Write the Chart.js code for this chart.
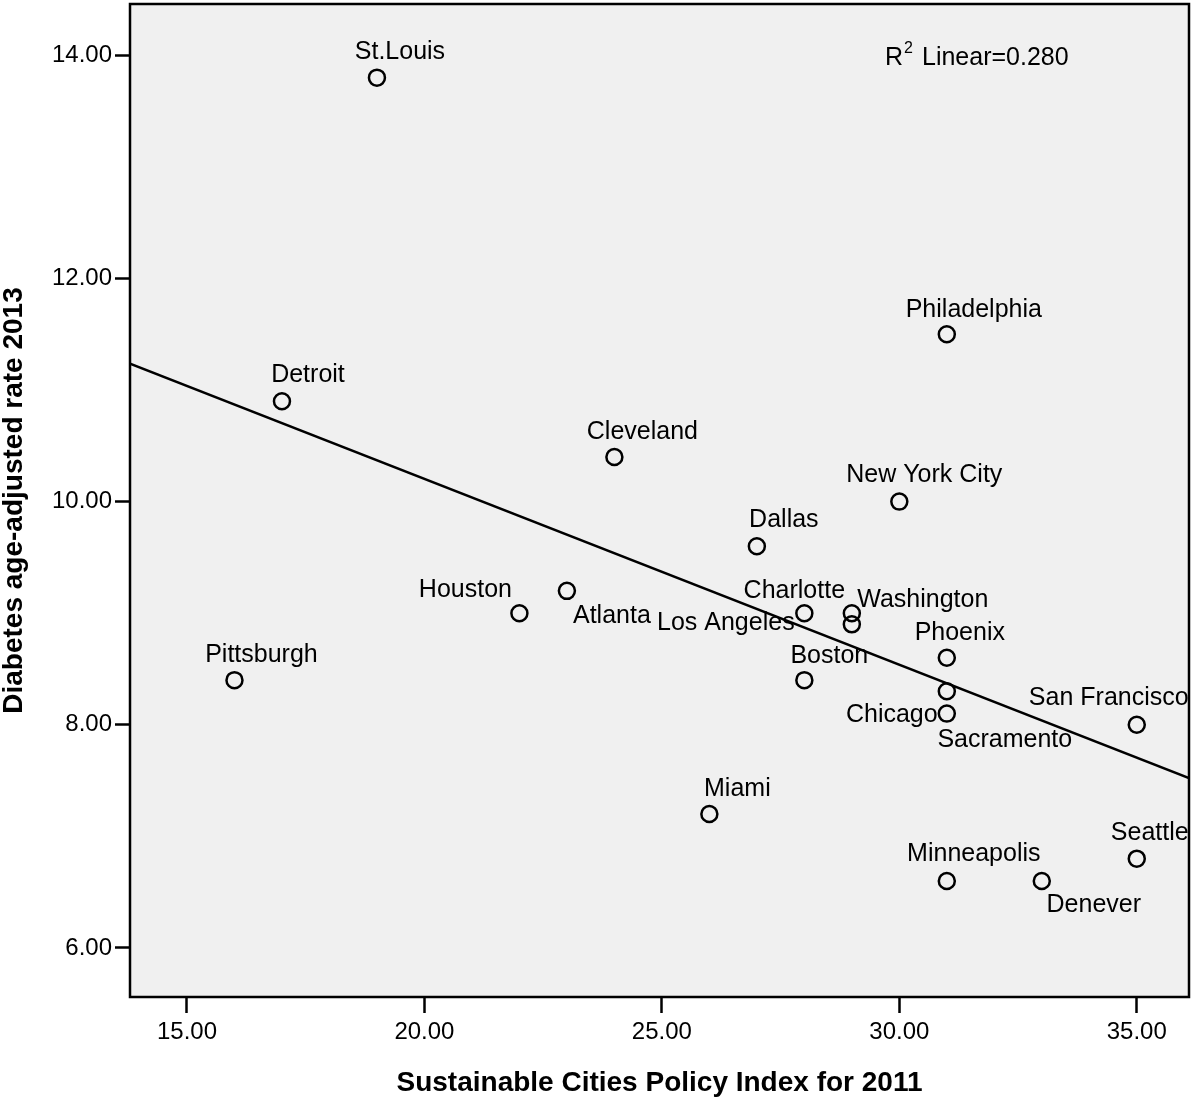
<!DOCTYPE html>
<html>
<head>
<meta charset="utf-8">
<script src="https://cdn.jsdelivr.net/npm/chart.js@4/dist/chart.umd.min.js"></script>
<style>
  html, body { margin: 0; padding: 0; background: #fff; }
  #wrap { width: 1192px; height: 1100px; }
</style>
</head>
<body>
<div id="wrap"><canvas id="chart" width="1192" height="1100"></canvas></div>
<script>
// data
var cities = ['St.Louis', 'Detroit', 'Pittsburgh', 'Houston', 'Atlanta', 'Cleveland', 'Miami',
  'Dallas', 'Charlotte', 'Boston', 'Washington', 'Los Angeles', 'New York City', 'Philadelphia',
  'Phoenix', 'Sacramento', 'Chicago', 'Minneapolis', 'Denever', 'San Francisco', 'Seattle'];
var policyIndex = [19, 17, 16, 22, 23, 24, 26, 27, 28, 28, 29, 29, 30, 31, 31, 31, 31, 31, 33, 35, 35];
var diabetesRate = [13.8, 10.9, 8.4, 9.0, 9.2, 10.4, 7.2, 9.6, 9.0, 8.4, 9.0, 8.9, 10.0, 11.5,
  8.6, 8.3, 8.1, 6.6, 6.6, 8.0, 6.8];
var xTicks = [15, 20, 25, 30, 35];
var yTicks = [6, 8, 10, 12, 14];
var r2Text = 'Linear=0.280';

var xMin = 13.8, xMax = 36.1, yMin = 5.56, yMax = 14.46;

// label placement (text centre relative to the point, px)
var labelOffset = {
  'St.Louis': [23, -26], 'Detroit': [26, -26], 'Pittsburgh': [27, -25], 'Houston': [-54, -23],
  'Atlanta': [45, 25], 'Cleveland': [28, -25], 'Miami': [28, -25], 'Dallas': [27, -26],
  'Charlotte': [-10, -22], 'Boston': [25, -24], 'Washington': [71, -13], 'Los Angeles': [-126, -1],
  'New York City': [25, -27], 'Philadelphia': [27, -24], 'Phoenix': [13, -25],
  'Sacramento': [58, 49], 'Chicago': [-55, 2], 'Minneapolis': [27, -27], 'Denever': [52, 24],
  'San Francisco': [-28, -27], 'Seattle': [13, -26]
};

var FONT = '"Liberation Sans", Arial, Helvetica, sans-serif';
var INK = '#000';

// least squares fit
var n = policyIndex.length, mx = 0, my = 0;
policyIndex.forEach(function(v){ mx += v; });
diabetesRate.forEach(function(v){ my += v; });
mx /= n; my /= n;
var sxy = 0, sxx = 0;
for (var i = 0; i < n; i++) {
  sxy += (policyIndex[i] - mx) * (diabetesRate[i] - my);
  sxx += (policyIndex[i] - mx) * (policyIndex[i] - mx);
}
var slope = sxy / sxx, intercept = my - slope * mx;

var points = policyIndex.map(function(x, i){ return { x: x, y: diabetesRate[i] }; });
var fitLine = [xMin, xMax].map(function(x){ return { x: x, y: intercept + slope * x }; });

var framePlugin = {
  id: 'frame',
  beforeDraw: function(chart){
    var a = chart.chartArea, ctx = chart.ctx;
    ctx.save();
    ctx.fillStyle = '#f0f0f0';
    ctx.fillRect(a.left, a.top, a.right - a.left, a.bottom - a.top);
    ctx.restore();
  },
  afterDraw: function(chart){
    var a = chart.chartArea, ctx = chart.ctx;
    ctx.save();
    ctx.strokeStyle = INK;
    ctx.lineWidth = 2.5;
    ctx.strokeRect(a.left, a.top, a.right - a.left, a.bottom - a.top);
    ctx.restore();
  }
};

var labelPlugin = {
  id: 'citylabels',
  afterDatasetsDraw: function(chart){
    var ctx = chart.ctx, meta = chart.getDatasetMeta(1), a = chart.chartArea;
    ctx.save();
    ctx.font = '25px ' + FONT;
    ctx.fillStyle = INK;
    ctx.textAlign = 'center';
    ctx.textBaseline = 'middle';
    meta.data.forEach(function(pt, i){
      var off = labelOffset[cities[i]] || [0, -25];
      ctx.fillText(cities[i], pt.x + off[0], pt.y + off[1]);
    });
    // R2 annotation
    ctx.textAlign = 'left';
    var x0 = a.left + 755, y0 = a.top + 54;
    ctx.fillText('R', x0, y0);
    var w = ctx.measureText('R').width;
    ctx.font = '16px ' + FONT;
    ctx.fillText('2', x0 + w + 1, y0 - 9);
    ctx.font = '25px ' + FONT;
    ctx.fillText(r2Text, x0 + 37, y0);
    ctx.restore();
  }
};

new Chart(document.getElementById('chart'), {
  type: 'scatter',
  data: {
    datasets: [{
      type: 'line',
      label: 'fit',
      data: fitLine,
      borderColor: INK,
      borderWidth: 2.5,
      pointRadius: 0,
      fill: false
    }, {
      label: 'cities',
      data: points,
      pointStyle: 'circle',
      pointRadius: 8,
      pointHoverRadius: 8,
      borderWidth: 2.5,
      borderColor: INK,
      backgroundColor: 'rgba(0,0,0,0)'
    }]
  },
  options: {
    responsive: false,
    animation: false,
    events: [],
    layout: { autoPadding: false, padding: { top: 4, right: 3, left: 0, bottom: 0 } },
    plugins: { legend: { display: false }, tooltip: { enabled: false } },
    scales: {
      x: {
        type: 'linear',
        min: xMin, max: xMax,
        afterFit: function(s){ s.height = 103; s.paddingLeft = 0; s.paddingRight = 0; },
        afterBuildTicks: function(s){ s.ticks = xTicks.map(function(v){ return { value: v }; }); },
        ticks: {
          font: { family: FONT, size: 24 }, color: INK, padding: 5,
          callback: function(v){ return v.toFixed(2); }
        },
        grid: { drawOnChartArea: false, drawTicks: true, tickLength: 16, tickWidth: 2.5, tickColor: INK },
        border: { display: false },
        title: {
          display: true, text: 'Sustainable Cities Policy Index for 2011', color: INK,
          font: { family: FONT, size: 28, weight: 'bold', lineHeight: 1 },
          padding: { top: 0, bottom: 3 }
        }
      },
      y: {
        type: 'linear',
        min: yMin, max: yMax,
        afterFit: function(s){ s.width = 130; s.paddingTop = 0; s.paddingBottom = 0; },
        afterBuildTicks: function(s){ s.ticks = yTicks.map(function(v){ return { value: v }; }); },
        ticks: {
          font: { family: FONT, size: 24 }, color: INK, padding: 3,
          callback: function(v){ return v.toFixed(2); }
        },
        grid: { drawOnChartArea: false, drawTicks: true, tickLength: 15, tickWidth: 2.5, tickColor: INK },
        border: { display: false },
        title: {
          display: true, text: 'Diabetes age-adjusted rate 2013', color: INK,
          font: { family: FONT, size: 28, weight: 'bold', lineHeight: 1 },
          padding: { top: 0, bottom: 0 }
        }
      }
    }
  },
  plugins: [framePlugin, labelPlugin]
});
</script>
</body>
</html>
